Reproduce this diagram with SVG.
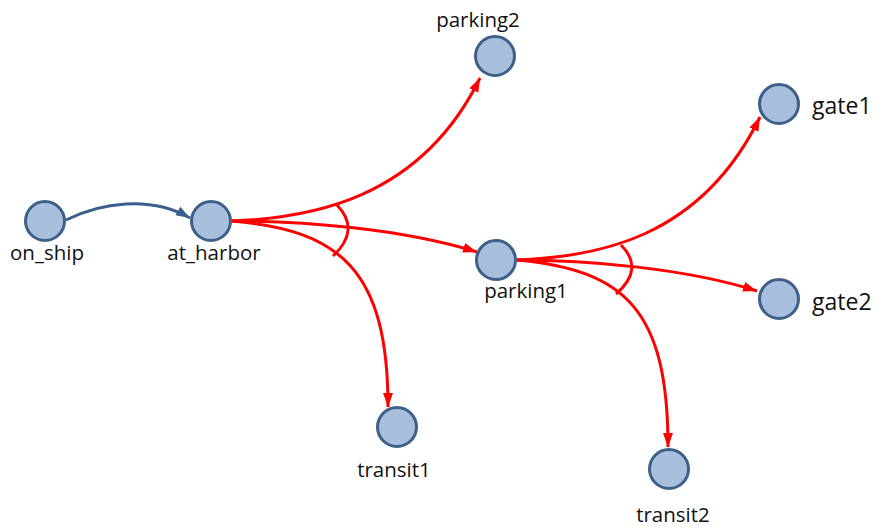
<svg xmlns="http://www.w3.org/2000/svg" width="877" height="529" viewBox="0 0 877 529">
<defs>
<style>
.node{fill:#a7bfdd;stroke:#3d5f8a;stroke-width:3}
.lbl{font-family:"Open Sans","Liberation Sans",sans-serif;font-size:20.5px;fill:#111}
.big{font-size:23px}
.red{fill:none;stroke:#ff0000;stroke-width:3}
.blue{fill:none;stroke:#3b5f8c;stroke-width:3}
</style>
<marker id="ar" markerUnits="userSpaceOnUse" markerWidth="15" markerHeight="11" refX="14" refY="5" orient="auto" viewBox="0 0 15 10">
<path d="M0,0 L14,5 L0,10 z" fill="#ff0000"/>
</marker>
<marker id="ab" markerUnits="userSpaceOnUse" markerWidth="15" markerHeight="11" refX="14" refY="5" orient="auto" viewBox="0 0 15 10">
<path d="M0,0 L14,5 L0,10 z" fill="#3b5f8c"/>
</marker>
</defs>
<rect width="877" height="529" fill="#ffffff"/>
<g id="connectors">
<path class="blue" d="M66 220 C100 203 150 195 190 218" marker-end="url(#ab)"/>
<path class="red" d="M232 221 C310 218 420 200 480 78" marker-end="url(#ar)"/>
<path class="red" d="M232 221 C300 221 400 228 477 252" marker-end="url(#ar)"/>
<path class="red" d="M232 221 C340 230 388 270 388 407" marker-end="url(#ar)"/>
<path class="red" d="M337 205 Q361 230 333 256"/>
<path class="red" d="M517 260 C595 257 700 240 760 117" marker-end="url(#ar)"/>
<path class="red" d="M517 260 C585 260 685 268 757 291" marker-end="url(#ar)"/>
<path class="red" d="M517 260 C625 270 668 310 668 447" marker-end="url(#ar)"/>
<path class="red" d="M621 245 Q645 269 616 294"/>
</g>
<g id="on_ship"><circle class="node" cx="45" cy="221" r="19.5"/><text class="lbl" x="47" y="260" text-anchor="middle">on_ship</text></g>
<g id="at_harbor"><circle class="node" cx="211" cy="221" r="19.5"/><text class="lbl" x="214" y="260" text-anchor="middle">at_harbor</text></g>
<g id="parking2"><circle class="node" cx="495" cy="56" r="19.5"/><text class="lbl" x="478" y="27" text-anchor="middle">parking2</text></g>
<g id="parking1"><circle class="node" cx="496" cy="260" r="19.5"/><text class="lbl" x="526" y="298" text-anchor="middle">parking1</text></g>
<g id="gate1"><circle class="node" cx="779" cy="104" r="19.5"/><text class="lbl big" x="812" y="114">gate1</text></g>
<g id="gate2"><circle class="node" cx="779" cy="299" r="19.5"/><text class="lbl big" x="812" y="310">gate2</text></g>
<g id="transit1"><circle class="node" cx="397" cy="427" r="19.5"/><text class="lbl" x="394" y="477" text-anchor="middle">transit1</text></g>
<g id="transit2"><circle class="node" cx="669" cy="469" r="19.5"/><text class="lbl" x="673" y="522" text-anchor="middle">transit2</text></g>
</svg>
